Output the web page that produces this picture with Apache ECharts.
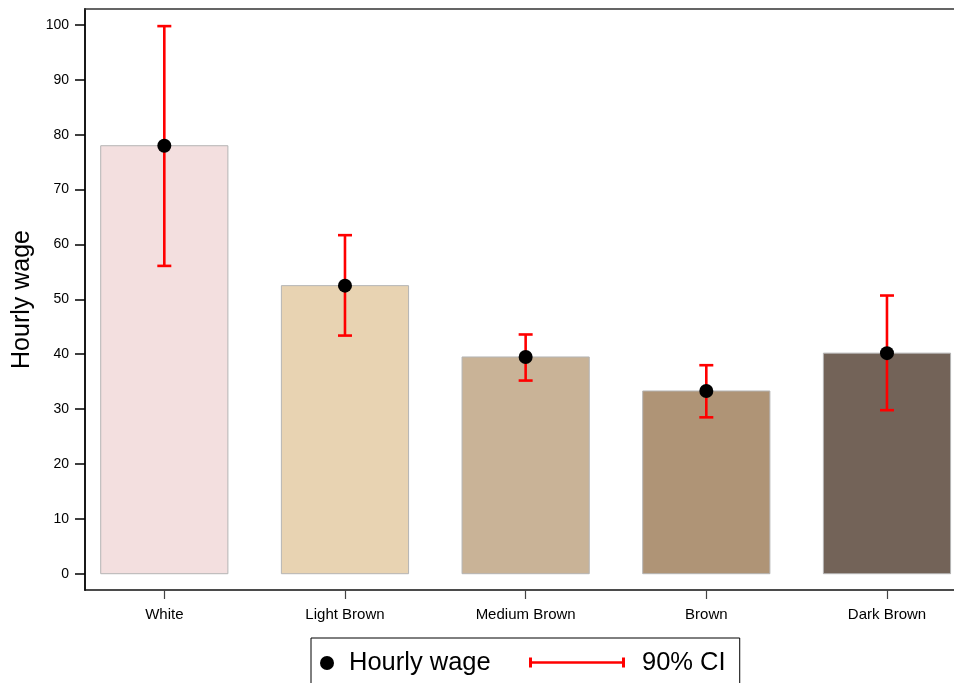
<!DOCTYPE html>
<html>
<head>
<meta charset="utf-8">
<script src="https://cdn.jsdelivr.net/npm/echarts@6/dist/echarts.min.js"></script>
<style>
  html, body { margin: 0; padding: 0; background: #fff; }
  #chart { width: 954px; height: 683px; }
</style>
</head>
<body>
<div id="chart"></div>
<script>
// Skin-tone groups and mean hourly wage with 90% confidence interval
var categories = ['White', 'Light Brown', 'Medium Brown', 'Brown', 'Dark Brown'];
var wage = [78.0, 52.5, 39.5, 33.3, 40.2];
var ciLow = [56.1, 43.4, 35.2, 28.5, 29.8];
var ciHigh = [99.8, 61.7, 43.6, 38.0, 50.7];
var yTicks = [0, 10, 20, 30, 40, 50, 60, 70, 80, 90, 100];

// Fill colour of each group's bar
var palette = ['#f3dfdf', '#e8d3b2', '#c9b397', '#af9476', '#736358'];

var FONT = '"Liberation Sans", Arial, Helvetica, sans-serif';
var xPos = categories.map(function (_, i) { return i; });

var barData = xPos.map(function (x, i) { return [x, wage[i]]; });
var ciData = xPos.map(function (x, i) { return [x, ciLow[i], ciHigh[i]]; });
var dotData = xPos.map(function (x, i) { return [x, wage[i]]; });

var X_MIN = -0.439, X_MAX = 4.371;

var chart = echarts.init(document.getElementById('chart'), null, { renderer: 'canvas' });

chart.setOption({
  backgroundColor: '#ffffff',
  animation: false,
  textStyle: { fontFamily: FONT },
  grid: { left: 85, right: 0, top: 9, bottom: 93, show: false },
  xAxis: [
    {
      type: 'value',
      min: X_MIN, max: X_MAX,
      position: 'bottom',
      splitLine: { show: false },
      axisLine: { show: true, onZero: false, lineStyle: { color: '#111', width: 1.6 } },
      axisTick: { show: true, length: 9, customValues: xPos, lineStyle: { color: '#444', width: 1.2 } },
      axisLabel: {
        customValues: xPos,
        margin: 17,
        fontSize: 15, color: '#000', fontFamily: FONT,
        formatter: function (v) { return categories[Math.round(v)] || ''; }
      }
    },
    {
      // frame line along the top of the plot
      type: 'value',
      min: X_MIN, max: X_MAX,
      position: 'top',
      splitLine: { show: false },
      axisLine: { show: true, onZero: false, lineStyle: { color: '#333', width: 1.6 } },
      axisTick: { show: false },
      axisLabel: { show: false }
    }
  ],
  yAxis: {
    type: 'value',
    min: -2.97, max: 102.92,
    name: 'Hourly wage',
    nameLocation: 'middle',
    nameGap: 49,
    nameTextStyle: { fontSize: 25, color: '#000', fontFamily: FONT },
    splitLine: { show: false },
    axisLine: { show: true, onZero: false, lineStyle: { color: '#000', width: 1.8 } },
    axisTick: { show: true, length: 10, customValues: yTicks, lineStyle: { color: '#000', width: 1.5 } },
    axisLabel: {
      customValues: yTicks,
      margin: 16,
      fontSize: 14, color: '#000', fontFamily: FONT
    }
  },
  legend: [
    {
      data: [{ name: 'Hourly wage', icon: 'circle' }],
      left: 311, top: 638,
      orient: 'horizontal',
      itemWidth: 14, itemHeight: 14,
      padding: [12, 249, 40, 9],
      borderColor: '#000', borderWidth: 1,
      selectedMode: false,
      textStyle: { fontSize: 25.5, color: '#000', fontFamily: FONT, padding: [0, 0, 0, 10] }
    },
    {
      data: [{ name: '90% CI', icon: 'path://M0,0H3V10H0Z M3,3.8H93V6.2H3Z M93,0H96V10H93Z' }],
      left: 529, top: 649.5,
      itemWidth: 96, itemHeight: 10,
      padding: 0,
      selectedMode: false,
      textStyle: { fontSize: 25.5, color: '#000', fontFamily: FONT, padding: [0, 0, 0, 12] }
    }
  ],
  series: [
    {
      type: 'custom',
      name: 'bars',
      data: barData,
      z: 1,
      renderItem: function (params, api) {
        var i = params.dataIndex;
        var x = api.value(0), v = api.value(1);
        var tl = api.coord([x - 0.352, v]);
        var br = api.coord([x + 0.352, 0]);
        return {
          type: 'rect',
          shape: { x: tl[0], y: tl[1], width: br[0] - tl[0], height: br[1] - tl[1] },
          style: { fill: palette[i], stroke: '#b4b4b4', lineWidth: 1 }
        };
      }
    },
    {
      type: 'custom',
      name: '90% CI',
      data: ciData,
      z: 2,
      itemStyle: { color: '#ff0000' },
      renderItem: function (params, api) {
        var x = api.value(0);
        var lo = api.coord([x, api.value(1)]);
        var hi = api.coord([x, api.value(2)]);
        var cap = 7;
        var st = { stroke: '#ff0000', lineWidth: 2.6, fill: null };
        return {
          type: 'group',
          children: [
            { type: 'line', shape: { x1: lo[0], y1: lo[1], x2: hi[0], y2: hi[1] }, style: st },
            { type: 'line', shape: { x1: lo[0] - cap, y1: lo[1], x2: lo[0] + cap, y2: lo[1] }, style: st },
            { type: 'line', shape: { x1: hi[0] - cap, y1: hi[1], x2: hi[0] + cap, y2: hi[1] }, style: st }
          ]
        };
      }
    },
    {
      type: 'scatter',
      name: 'Hourly wage',
      data: dotData,
      z: 3,
      symbol: 'circle',
      symbolSize: 14,
      itemStyle: { color: '#000', opacity: 1 }
    }
  ]
});
</script>
</body>
</html>
